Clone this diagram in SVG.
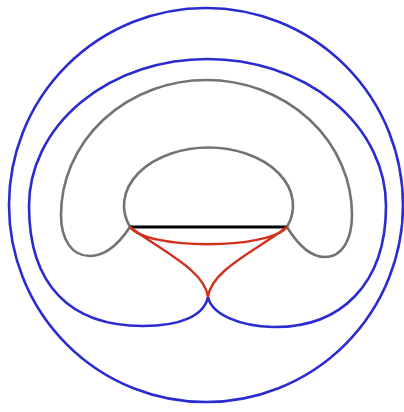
<svg xmlns="http://www.w3.org/2000/svg" width="404" height="412" viewBox="0 0 404 412">
<style>
.b{fill:none;stroke:#2b2bd0;stroke-width:2.6}
.g{fill:none;stroke:#737373;stroke-width:2.6}
.r{fill:none;stroke:#d0321e;stroke-width:2.4}
.k{fill:none;stroke:#000;stroke-width:2.8}
</style>
<rect width="404" height="412" fill="#fff"/>
<g id="outer-circle"><circle class="b" cx="206" cy="205" r="197"/></g>
<g id="blue-curve"><path class="b" d="M208,297 C204,316 180,326 143,326 C70,326 29,285 29,206 A178.5 147 0 0 1 386,206 C386,285 340,328 273,327 C240,326 212,315 208,297 Z"/></g>
<g id="gray-curve"><path class="g" d="M130,227 A84.5 58 0 1 1 287,227 C298,245 310,257 325,257 C343,257 352,238 352,215 A145.5 135 0 0 0 61,215 C61,240 72,256 90,256 C106,256 120,242 130,227 Z"/></g>
<g id="black-line"><line class="k" x1="130" y1="227" x2="287" y2="227"/></g>
<g id="red-curves">
<path class="r" d="M130,227 C147,250 268,250 287,227"/>
<path class="r" d="M130,227 C160,250 205,270 208,297"/>
<path class="r" d="M287,227 C257,250 211,270 208,297"/>
</g>
</svg>
